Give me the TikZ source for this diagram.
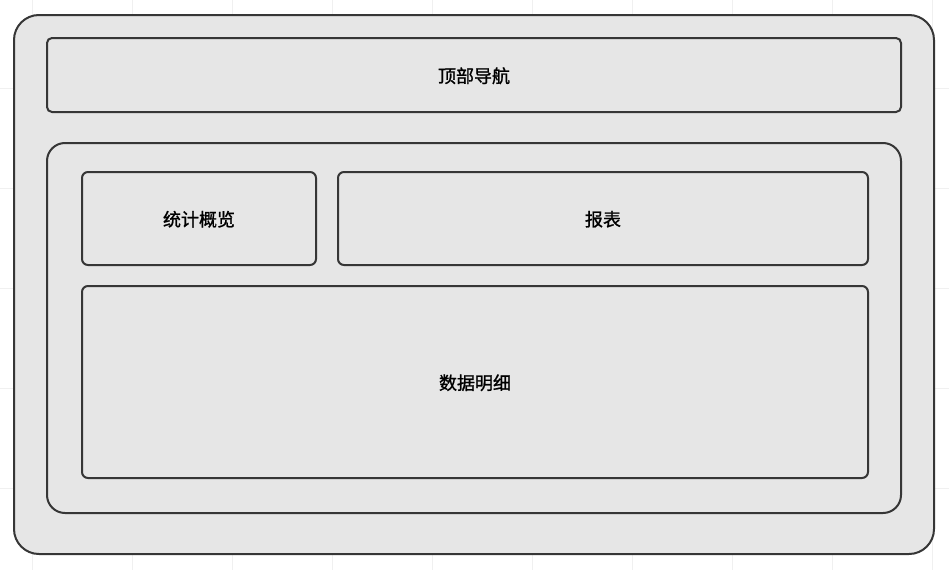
\documentclass[tikz,border=0pt]{standalone}
\usepackage{fontspec}
\setmainfont{Noto Sans CJK SC}[BoldFont=*, BoldFeatures={FakeBold=1.2}]
\usepackage{tikz}

\definecolor{boxfill}{HTML}{E6E6E6}
\definecolor{boxline}{HTML}{363636}
\definecolor{gridgray}{HTML}{F0F0F0}

\begin{document}
\begin{tikzpicture}[
    x=1pt, y=-1pt,
    panel/.style={rectangle, draw=boxline, line width=2pt, fill=boxfill,
        rounded corners=#1, inner sep=0pt, text depth=0pt,
        font=\fontsize{18}{22}\selectfont\bfseries},
    panel/.default=6pt,
    gridline/.style={draw=gridgray, line width=1pt}
]
    \useasboundingbox (0,0) rectangle (949,570);
    \draw[gridline, shift={(32,88)}] (-32,-88) grid[step=100pt] (917,482);
    \node[panel=25pt, minimum width=920pt, minimum height=539pt] (frame) at (474,284.5) {};
    \node[panel=5pt, minimum width=854pt, minimum height=74pt] (nav) at (474,75) {顶部导航};
    \node[panel=18pt, minimum width=854pt, minimum height=370pt] (main) at (474,328) {};
    \node[panel, minimum width=234pt, minimum height=93pt] (stats) at (199,218.5) {统计概览};
    \node[panel, minimum width=530pt, minimum height=93pt] (report) at (603,218.5) {报表};
    \node[panel, minimum width=786pt, minimum height=192pt] (detail) at (475,382) {数据明细};
\end{tikzpicture}
\end{document}
